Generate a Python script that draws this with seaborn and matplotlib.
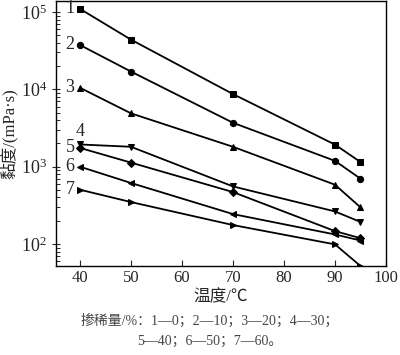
import matplotlib
matplotlib.use("Agg")
import matplotlib.pyplot as plt
import seaborn as sns
import pandas as pd
import numpy as np

temps = [40, 50, 70, 90, 95]
s1 = [1.1e5, 4.4e4, 8.7e3, 1.93e3, 1.15e3]
s2 = [3.75e4, 1.7e4, 3.7e3, 1.19e3, 700]
s3 = [1.05e4, 4.9e3, 1.81e3, 585, 298]
s4 = [1.94e3, 1.81e3, 556, 264, 193]
s5 = [1.75e3, 1.13e3, 470, 147, 119]
s6 = [1000, 616, 244, 133, 111]
s7 = [504, 349, 176, 99, 52]
series_names = ["1", "2", "3", "4", "5", "6", "7"]
series_vals = [s1, s2, s3, s4, s5, s6, s7]
xticks = [40, 50, 60, 70, 80, 90, 100]
xlabel = "温度/℃"
ylabel = "黏度/(mPa·s)"
caption1 = "掺稀量/%：1—0；2—10；3—20；4—30；"
caption2 = "5—40；6—50；7—60。"

sns.set_style("ticks")
plt.rcParams['font.family'] = ['Liberation Serif', 'Noto Sans CJK SC']
plt.rcParams['mathtext.fontset'] = 'stix'

rows = []
for name, vals in zip(series_names, series_vals):
    for t, v in zip(temps, vals):
        rows.append({"T": t, "V": v, "s": name})
df = pd.DataFrame(rows)

fig = plt.figure(figsize=(4.0, 3.55), dpi=100)
ax = fig.add_axes([0.14, 0.2507, 0.825, 0.7465])

markers = {"1": "s", "2": "o", "3": "^", "4": "v", "5": "D", "6": "<", "7": ">"}
sns.lineplot(data=df, x="T", y="V", hue="s", style="s", markers=markers,
             dashes=False, palette=["black"] * 7, legend=False, ax=ax,
             linewidth=1.3, markersize=4.5, markeredgecolor="black", clip_on=True)

ax.set_yscale("log")
ax.set_xlim(35.3, 100)
ax.set_ylim(52, 1.39e5)
ax.set_xticks(xticks)
ax.set_xticklabels([str(x) for x in xticks])

for sp in ax.spines.values():
    sp.set_visible(True)
    sp.set_linewidth(1.0)
    sp.set_color("black")

ax.tick_params(axis="x", direction="in", length=4, width=0.8, labelsize=12, pad=3)
ax.tick_params(axis="y", which="major", direction="inout", length=6, width=0.8, labelsize=13)
ax.tick_params(axis="y", which="minor", direction="in", length=3, width=0.7)
ax.tick_params(top=False, right=False, which="both")

ax.set_xlabel(xlabel, fontsize=12, labelpad=2)
ax.set_ylabel(ylabel, fontsize=12, labelpad=2)

for name, vals in zip(series_names, series_vals):
    if name == "4":
        ax.annotate(name, (temps[0], vals[0]), xytext=(0, 3), textcoords="offset points",
                    ha="center", va="bottom", fontsize=13)
    else:
        ax.annotate(name, (temps[0], vals[0]), xytext=(-4, 0), textcoords="offset points",
                    ha="right", va="center", fontsize=13)

fig.text(0.523, 1 - 321 / 355, caption1, ha="center", va="center", fontsize=10, color="#444444")
fig.text(0.525, 1 - 341 / 355, caption2, ha="center", va="center", fontsize=10, color="#444444")

fig.savefig("out.png", dpi=100)
